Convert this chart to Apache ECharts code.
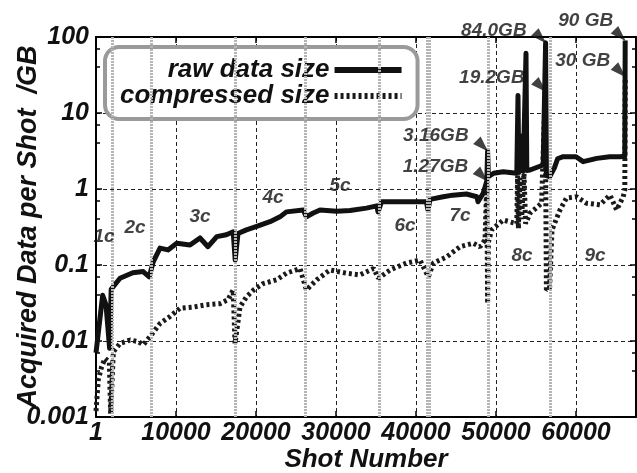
<!DOCTYPE html>
<html>
<head>
<meta charset="utf-8">
<script src="https://cdn.jsdelivr.net/npm/echarts@6/dist/echarts.min.js"></script>
<style>
  html, body { margin: 0; padding: 0; background: #fff; }
  #chart { width: 637px; height: 473px; }
</style>
</head>
<body>
<div id="chart"></div>
<script>
// raw data size per shot (GB)
const rawShot = [1, 830, 1250, 1700, 1900, 3000, 4600, 5900, 6650, 7150, 8000, 9000, 10100, 11750, 13000,
  14000, 15100, 16300, 17150, 17400, 17750, 18800, 20000, 21750, 23000, 23800, 25900, 26300, 27100, 28000,
  30100, 31750, 33800, 35100, 35250, 35700, 41300, 41500, 41750, 43400, 44600, 46300, 47600, 47750, 48400,
  48850, 48950, 49050, 49700, 50900, 52600, 52750, 52850, 53300, 53400, 53750, 53850, 54250, 55900, 56200,
  56300, 56700, 57300, 57700, 58400, 60000, 60900, 62600, 64200, 65500, 66100, 66150];
const rawGB = [0.007, 0.040, 0.030, 0.008, 0.048, 0.067, 0.079, 0.082, 0.070, 0.110, 0.167, 0.158, 0.193, 0.183, 0.227,
  0.174, 0.236, 0.250, 0.274, 0.116, 0.260, 0.290, 0.320, 0.372, 0.430, 0.500, 0.530, 0.430, 0.480, 0.530,
  0.510, 0.520, 0.560, 0.600, 0.500, 0.680, 0.680, 0.530, 0.730, 0.790, 0.830, 0.860, 0.790, 0.680, 0.880,
  1.27, 3.16, 1.45, 1.61, 1.69, 1.61, 17, 1.65, 5, 1.7, 61, 1.75, 1.78, 2.07, 84.0,
  1.5, 1.45, 1.9, 2.5, 2.66, 2.66, 2.29, 2.53, 2.66, 2.66, 2.7, 90];

// compressed size per shot (GB)
const compShot = [1, 290, 710, 1120, 1670, 1830, 2170, 3000, 4250, 5300, 5900, 6750, 8000, 9250, 10500,
  12200, 13800, 15500, 16500, 17150, 17380, 18000, 18800, 19700, 20900, 22600, 23800, 25500, 26300, 27600,
  29250, 31300, 33000, 34700, 35300, 36750, 38800, 40500, 41540, 42170, 43830, 45500, 47170, 48000, 48630,
  48850, 48950, 49050, 49460, 50900, 52600, 52700, 52800, 53000, 53200, 53500, 53700, 54250, 55700, 56150,
  56300, 56700, 57000, 58000, 58800, 60080, 61300, 63000, 64250, 65080, 65900, 66100, 66150];
const compGB = [0.0012, 0.0031, 0.0046, 0.0059, 0.0053, 0.0011, 0.0072, 0.0093, 0.0103, 0.0098, 0.0089, 0.0114, 0.017, 0.021, 0.027,
  0.028, 0.030, 0.031, 0.035, 0.047, 0.0093, 0.028, 0.038, 0.047, 0.057, 0.064, 0.078, 0.090, 0.047, 0.064,
  0.086, 0.078, 0.074, 0.090, 0.067, 0.086, 0.106, 0.116, 0.070, 0.106, 0.128, 0.174, 0.193, 0.174, 0.213,
  1.27, 0.031, 0.2, 0.29, 0.39, 0.35, 1.5, 0.3, 1.4, 0.4, 1.6, 0.35, 0.48, 0.65, 19.2,
  0.047, 0.05, 0.29, 0.53, 0.76, 0.79, 0.65, 0.62, 0.83, 0.53, 0.79, 0.97, 30];

// campaign boundaries and labels
const boundShot = [2000, 6900, 17400, 26100, 35400, 41400, 41650, 49000, 56800];
const cycleNames = ['1c', '2c', '3c', '4c', '5c', '6c', '7c', '8c', '9c'];
const cycleShot = [1000, 4875, 13000, 22125, 30500, 38625, 45500, 53250, 62375];
const cycleGB = [0.234, 0.307, 0.428, 0.76, 1.095, 0.326, 0.44, 0.131, 0.131];

// annotated spikes
const noteText = ['3.16GB', '1.27GB', '84.0GB', '19.2GB', '90 GB', '30 GB'];
const noteShot = [48950, 48900, 56200, 56200, 66150, 66150];
const noteGB = [3.16, 1.27, 84.0, 19.2, 90, 30];

const yTickLabels = ['0.001', '0.01', '0.1', '1', '10', '100'];
const seriesNames = ['raw data size', 'compressed size'];

// label placement for the notes (pixels from the point)
const noteLabelPos = [[-19, -15], [-19, -14], [-19, -12], [-21, -14], [-12, -20], [-15, -16]];

const FONT = 'Liberation Sans';
const txt = (size) => ({ fontFamily: FONT, fontWeight: 'bold', fontStyle: 'italic', fontSize: size, color: '#111' });

const chart = echarts.init(document.getElementById('chart'), null, { renderer: 'canvas' });

const zip = (xs, ys) => xs.map((x, i) => [x, ys[i]]);

chart.setOption({
  animation: false,
  backgroundColor: '#fff',
  grid: { left: 96, right: 1, top: 37, bottom: 56, outerBoundsMode: 'none', containLabel: false },
  legend: {
    left: 105, top: 47,
    orient: 'vertical',
    align: 'right',
    padding: [10, 13, 10, 15],
    itemGap: 0,
    itemWidth: 67, itemHeight: 14,
    backgroundColor: '#fff',
    borderColor: '#9a9a9a', borderWidth: 4, borderRadius: 14,
    itemStyle: { opacity: 0 },
    textStyle: Object.assign(txt(26), { width: 208, align: 'right', lineHeight: 22 }),
    data: [
      { name: seriesNames[0], lineStyle: { width: 6, color: '#111' } },
      { name: seriesNames[1], lineStyle: { width: 6, color: '#1a1a1a', type: [3, 3] } },
    ],
    selectedMode: false,
  },
  xAxis: [
    {
      type: 'value', min: 0, max: 67500, interval: 10000,
      name: 'Shot Number', nameLocation: 'middle', nameGap: 30, nameMoveOverlap: false,
      nameTextStyle: txt(26),
      axisLine: { onZero: false, lineStyle: { color: '#000', width: 2 } },
      axisTick: { inside: true, length: 6, lineStyle: { color: '#000', width: 1.5 } },
      axisLabel: Object.assign(txt(25), { margin: 4, showMaxLabel: false,
        formatter: v => (v === 0 ? '1' : String(v)) }),
      splitLine: { show: true, lineStyle: { color: '#222', width: 1, type: [4, 3] } },
    },
    {
      type: 'value', position: 'top', min: 0, max: 67500, interval: 10000,
      axisLine: { onZero: false, lineStyle: { color: '#000', width: 2 } },
      axisTick: { inside: true, length: 6, lineStyle: { color: '#000', width: 1.5 } },
      axisLabel: { show: false }, splitLine: { show: false },
    },
  ],
  yAxis: [
    {
      type: 'log', logBase: 10, min: 0.001, max: 100,
      name: 'Acquired Data per Shot  /GB', nameLocation: 'middle', nameGap: 54, nameRotate: 90,
      nameMoveOverlap: false,
      nameTextStyle: txt(27),
      axisLine: { onZero: false, lineStyle: { color: '#000', width: 2 } },
      axisTick: { inside: true, length: 6, lineStyle: { color: '#000', width: 1.5 } },
      minorTick: { show: true, splitNumber: 3, length: 4, lineStyle: { color: '#000', width: 1.5 } },
      axisLabel: Object.assign(txt(25), { margin: 7,
        formatter: v => yTickLabels[Math.round(Math.log10(v)) + 3] }),
      splitLine: { show: true, lineStyle: { color: '#222', width: 1, type: [4, 3] } },
    },
    {
      type: 'log', logBase: 10, min: 0.001, max: 100, position: 'right',
      axisLine: { onZero: false, lineStyle: { color: '#000', width: 2 } },
      axisTick: { inside: true, length: 6, lineStyle: { color: '#000', width: 1.5 } },
      minorTick: { show: true, splitNumber: 3, length: 4, lineStyle: { color: '#000', width: 1.5 } },
      axisLabel: { show: false }, splitLine: { show: false },
    },
  ],
  series: [
    {
      name: 'bounds', type: 'line', data: [], z: 1, silent: true,
      markLine: {
        silent: true, symbol: ['none', 'none'], label: { show: false },
        lineStyle: { color: '#b5b5b5', width: 3, type: [2, 1] },
        data: boundShot.map(s => ({ xAxis: s })),
      },
    },
    {
      name: seriesNames[1], type: 'line', z: 3,
      data: zip(compShot, compGB), showSymbol: false, symbol: 'none',
      itemStyle: { color: '#1a1a1a' },
      lineStyle: { color: '#1a1a1a', width: 5, type: [3, 3], cap: 'butt' },
    },
    {
      name: seriesNames[0], type: 'line', z: 4,
      data: zip(rawShot, rawGB), showSymbol: false, symbol: 'none',
      itemStyle: { color: '#111' },
      lineStyle: { color: '#111', width: 5, join: 'round' },
    },
    {
      name: 'cycles', type: 'scatter', z: 5, silent: true,
      symbolSize: 0,
      data: zip(cycleShot, cycleGB).map((v, i) => ({ value: v, name: cycleNames[i] })),
      label: Object.assign(txt(19), { show: true, position: 'inside', formatter: p => p.name }),
    },
    {
      name: 'arrows', type: 'scatter', z: 6, silent: true,
      symbol: 'path://M10,10 L0,5 L5,0 Z', symbolSize: 15, symbolKeepAspect: true, symbolOffset: [-7, -7],
      itemStyle: { color: '#111' },
      data: zip(noteShot, noteGB),
    },
    {
      name: 'notes', type: 'scatter', z: 6, silent: true,
      symbolSize: 0,
      data: zip(noteShot, noteGB).map((v, i) => ({
        value: v, name: noteText[i],
        label: { position: noteLabelPos[i] },
      })),
      label: Object.assign(txt(19), { show: true, align: 'right', verticalAlign: 'middle',
        formatter: p => p.name }),
    },
  ],
});
</script>
</body>
</html>
